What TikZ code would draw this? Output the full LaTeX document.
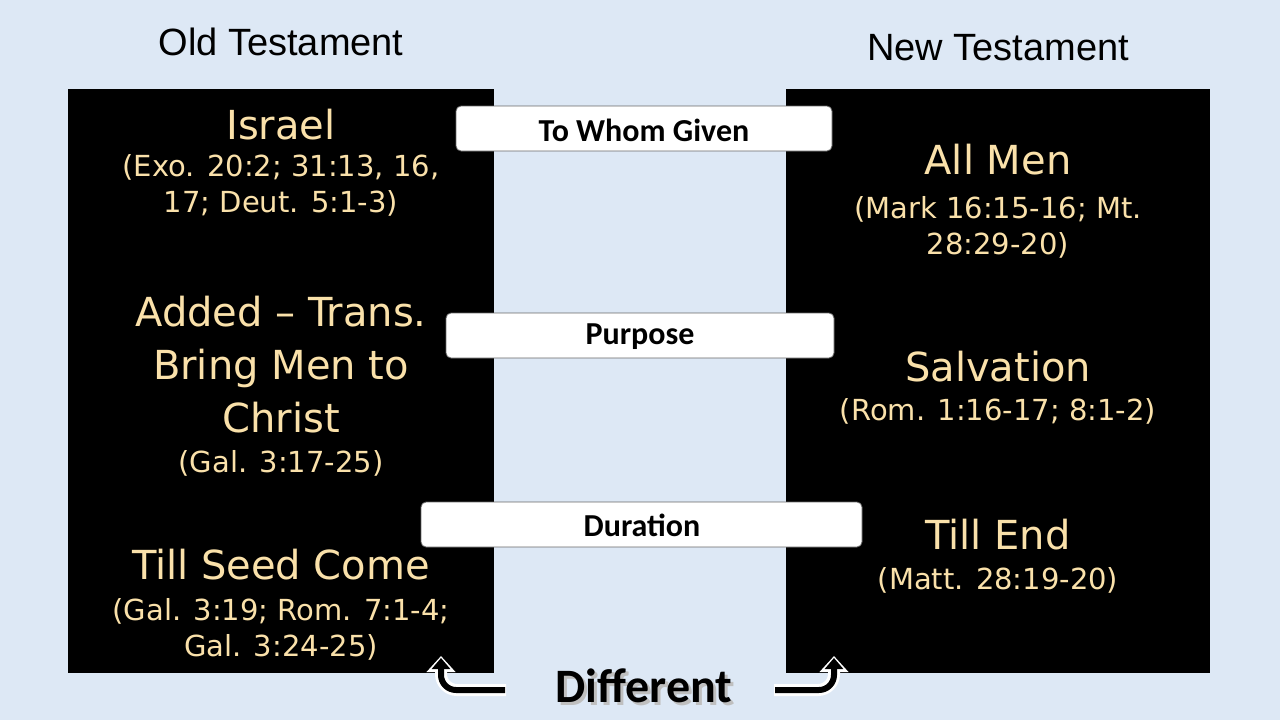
\documentclass[tikz,border=0pt]{standalone}
\usepackage{fontspec}
\setmainfont{DejaVu Sans}
\newfontfamily\carl{Carlito}
\newfontfamily\ars{Liberation Sans}
\usetikzlibrary{arrows.meta}
\definecolor{bg}{RGB}{221,232,245}
\definecolor{gold}{RGB}{250,225,170}
\tikzset{x=1pt,y=-1pt,
 panel/.style={fill=black,draw=none},
 lbl/.style={draw=black!60,fill=white,rounded corners=5pt,line width=0.8pt},
 big/.style={text=gold,font=\fontsize{40}{46}\selectfont,align=center},
 ref/.style={text=gold,font=\fontsize{29}{36}\selectfont,align=center},
 lt/.style={font=\carl\bfseries\fontsize{32}{36}\selectfont},
 ttl/.style={font=\ars\fontsize{38}{40}\selectfont}}
\begin{document}
\begin{tikzpicture}
\fill[bg] (0,0) rectangle (1280,720);
\useasboundingbox (0,0) rectangle (1280,720);
\fill[panel] (68,89) rectangle (494,673);
\fill[panel] (786,89) rectangle (1210,673);
\node[ttl] (ot) at (281,42) {Old Testament};
\node[ttl] (nt) at (998,48) {New Testament};
\draw[lbl] (456,106) rectangle (832,151);
\node[lt] (l1) at (644,130) {To Whom Given};
\draw[lbl] (446,313) rectangle (834,358);
\node[lt] (l2) at (640,337) {Purpose};
\draw[lbl] (421,502) rectangle (862,547);
\node[lt] (l3) at (642,525) {Duration};
\node[big] (a1) at (281,125) {Israel};
\node[ref] (a2) at (281,185) {(Exo. 20:2; 31:13, 16,\\17; Deut. 5:1-3)};
\node[big,font=\fontsize{40}{53}\selectfont] (b1) at (281,365) {Added – Trans.\\Bring Men to\\Christ};
\node[ref] (b2) at (281,463) {(Gal. 3:17-25)};
\node[big] (c1) at (281,565) {Till Seed Come};
\node[ref] (c2) at (281,629) {(Gal. 3:19; Rom. 7:1-4;\\Gal. 3:24-25)};
\node[big] (d1) at (998,160) {All Men};
\node[ref] (d2) at (998,227) {(Mark 16:15-16; Mt.\\28:29-20)};
\node[big] (e1) at (998,367) {Salvation};
\node[ref] (e2) at (998,411) {(Rom. 1:16-17; 8:1-2)};
\node[big] (f1) at (998,535) {Till End};
\node[ref] (f2) at (998,580) {(Matt. 28:19-20)};
\node[font=\carl\bfseries\fontsize{48}{50}\selectfont,text=black!25] at (647,689) {Different};
\node[font=\carl\bfseries\fontsize{48}{50}\selectfont] (df) at (644,686) {Different};
\coordinate (la) at (506,690); \coordinate (lb) at (441,656);
\coordinate (ra) at (774,690); \coordinate (rb) at (834,656);
\draw[white,line width=12pt,rounded corners=16pt,-{Triangle[length=16pt,width=28pt]}] (la) -- (441,690) -- (lb);
\draw[white,line width=12pt,rounded corners=16pt,-{Triangle[length=16pt,width=28pt]}] (ra) -- (834,690) -- (rb);
\draw[black,line width=6pt,rounded corners=15pt,shorten >=2pt,-{Triangle[length=11pt,width=18pt]}] (505,690) -- (441,690) -- (lb);
\draw[black,line width=6pt,rounded corners=15pt,shorten >=2pt,-{Triangle[length=11pt,width=18pt]}] (775,690) -- (834,690) -- (rb);
\end{tikzpicture}
\end{document}
